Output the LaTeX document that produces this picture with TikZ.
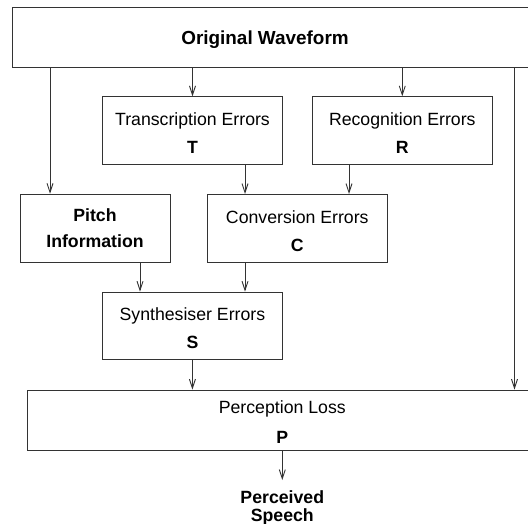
\documentclass[tikz,border=0pt]{standalone}
\usepackage{fontspec}
\setmainfont{Liberation Sans}
\usetikzlibrary{arrows.meta}
\tikzset{
  txt/.style={font=\fontsize{17.7bp}{21bp}\selectfont},
  boldtxt/.style={font=\fontsize{17.7bp}{21bp}\selectfont\bfseries},
  errbox/.style={txt, draw=black!80, line width=0.9bp, minimum width=180bp,
    minimum height=67.5bp, inner sep=0pt, align=center},
  flow/.style={draw=black!80, line width=0.9bp,
    -{Straight Barb[length=9bp,width=6bp]}},
}
% first line raised by a strut, code letter in bold below
\newcommand{\errtext}[2]{\rule{0pt}{18.4bp}#1\\[7bp]\textbf{#2}}

\begin{document}
\begin{tikzpicture}[x=1bp, y=-1bp]
  \useasboundingbox (0,0) rectangle (528,524);

  % source
  \node[errbox, minimum width=540bp, minimum height=60bp] (wave) at (282.7,37) {};
  \node[boldtxt, font=\fontsize{18.9bp}{21bp}\selectfont\bfseries, anchor=base, inner sep=0pt]
    (wavetitle) at (265,45) {Original Waveform};

  % error stages
  \node[errbox] (T) at (192.5,130.5) {\errtext{Transcription Errors}{T}};
  \node[errbox] (R) at (402.3,130.5) {\errtext{Recognition Errors}{R}};
  \node[errbox, boldtxt, minimum width=150bp, minimum height=68bp] (pitch) at (95,228.2)
    {Pitch\\[5bp]Information};
  \node[errbox] (C) at (297.3,228.2) {\errtext{Conversion Errors}{C}};
  \node[errbox] (S) at (192.4,325.8) {\errtext{Synthesiser Errors}{S}};
  \node[errbox, minimum width=510bp, minimum height=60bp] (P) at (282.3,420)
    {\rule{0pt}{16.6bp}Perception Loss\\[9bp]\textbf{P}};

  % output
  \node[boldtxt, align=center, anchor=north, inner xsep=0pt, inner ysep=10.6bp]
    (speech) at (282.3,480) {Perceived\\[-3.3bp]Speech};

  % connectors
  \draw[flow] (wave.south -| 50,0) -- (pitch.north -| 50,0);
  \draw[flow] (wave.south -| T.north) -- (T.north);
  \draw[flow] (wave.south -| R.north) -- (R.north);
  \draw[flow] (wave.south -| 514.5,0) -- (P.north -| 514.5,0);
  \draw[flow] (T.south -| 245,0) -- (C.north -| 245,0);
  \draw[flow] (R.south -| 349,0) -- (C.north -| 349,0);
  \draw[flow] (pitch.south -| 140,0) -- (S.north -| 140,0);
  \draw[flow] (C.south -| 245,0) -- (S.north -| 245,0);
  \draw[flow] (S.south) -- (S.south |- P.north);
  \draw[flow] (P.south) -- (speech.north);
\end{tikzpicture}
\end{document}
